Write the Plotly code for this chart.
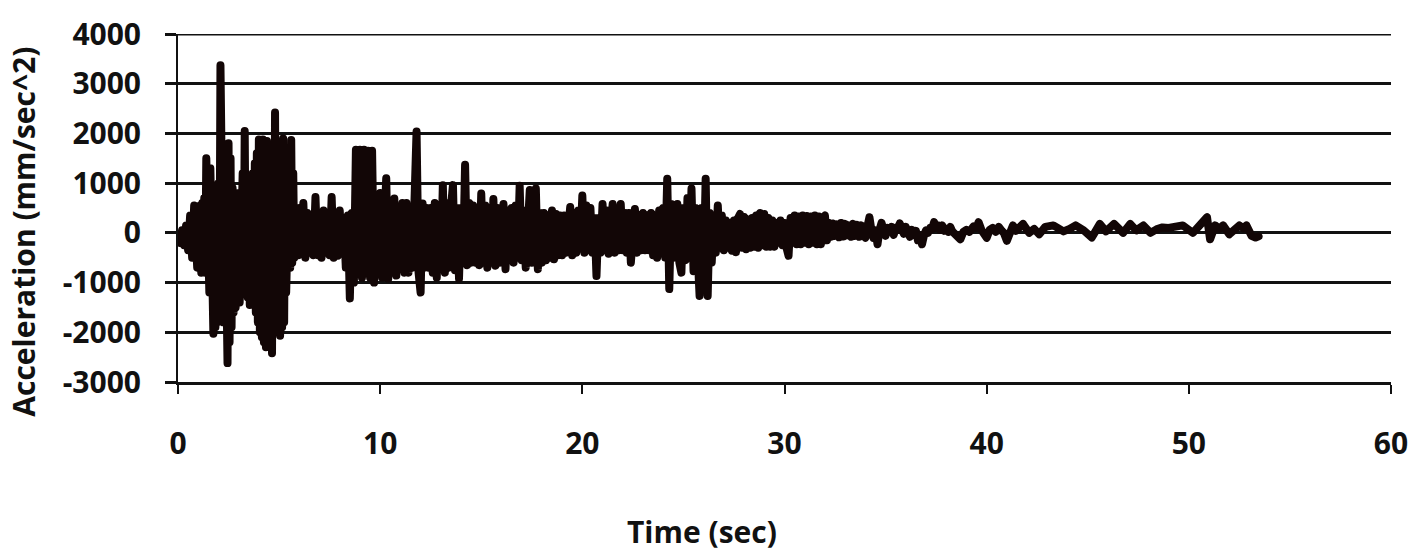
import plotly.graph_objects as go

# ---- Data ----
# Onset 0-0.7 s
t_onset = [0.0, 0.1, 0.2, 0.3, 0.4, 0.5, 0.6, 0.7]
a_onset = [-50, -200, 50, -250, 150, -350, 350, -500]

# Peak shaking 0.8-5.95 s, sampled every 0.05 s
t_peak = [
    0.80, 0.85, 0.90, 0.95,
    1.00, 1.05, 1.10, 1.15, 1.20, 1.25, 1.30, 1.35, 1.40, 1.45,
    1.50, 1.55, 1.60, 1.65, 1.70, 1.75, 1.80, 1.85, 1.90, 1.95,
    2.00, 2.05, 2.10, 2.15, 2.20, 2.25, 2.30, 2.35, 2.40, 2.45,
    2.50, 2.55, 2.60, 2.65, 2.70, 2.75, 2.80, 2.85, 2.90, 2.95,
    3.00, 3.05, 3.10, 3.15, 3.20, 3.25, 3.30, 3.35, 3.40, 3.45,
    3.50, 3.55, 3.60, 3.65, 3.70, 3.75, 3.80, 3.85, 3.90, 3.95,
    4.00, 4.05, 4.10, 4.15, 4.20, 4.25, 4.30, 4.35, 4.40, 4.45,
    4.50, 4.55, 4.60, 4.65, 4.70, 4.75, 4.80, 4.85, 4.90, 4.95,
    5.00, 5.05, 5.10, 5.15, 5.20, 5.25, 5.30, 5.35, 5.40, 5.45,
    5.50, 5.55, 5.60, 5.65, 5.70, 5.75, 5.80, 5.85, 5.90, 5.95,
]
a_peak = [
    550, -600, 500, -700,
    500, -700, 550, -800, 600, -700, 700, -800, 1500, -900,
    1400, -1200, 1300, -1800, 1200, -2030, 800, -1900, 900, -1800,
    1000, -1500, 3370, -1600, 1200, -1800, 1700, -2300, 1200, -2620,
    1800, -2200, 1500, -1900, 900, -1600, 800, -1500, 700, -1400,
    800, -1400, 1000, -1300, 1200, -1200, 2050, -1000, 900, -1300,
    1000, -1450, 1000, -1300, 1200, -1400, 1400, -1600, 1600, -1800,
    1880, -2000, 1850, -2100, 1880, -2200, 1850, -2300, 1850, -2100,
    1700, -2300, 1500, -2420, 1300, -2000, 2420, -1900, 1500, -2000,
    1200, -2070, 1600, -1900, 1900, -1800, 1500, -1200, 1200, -900,
    1400, -700, 1870, -600, 1200, -500, 500, -450, 450, -450,
]

# Strong-motion phase 6.0-27.9 s, sampled every 0.1 s (one row per second)
t_strong = [
    6.0, 6.1, 6.2, 6.3, 6.4, 6.5, 6.6, 6.7, 6.8, 6.9,
    7.0, 7.1, 7.2, 7.3, 7.4, 7.5, 7.6, 7.7, 7.8, 7.9,
    8.0, 8.1, 8.2, 8.3, 8.4, 8.5, 8.6, 8.7, 8.8, 8.9,
    9.0, 9.1, 9.2, 9.3, 9.4, 9.5, 9.6, 9.7, 9.8, 9.9,
    10.0, 10.1, 10.2, 10.3, 10.4, 10.5, 10.6, 10.7, 10.8, 10.9,
    11.0, 11.1, 11.2, 11.3, 11.4, 11.5, 11.6, 11.7, 11.8, 11.9,
    12.0, 12.1, 12.2, 12.3, 12.4, 12.5, 12.6, 12.7, 12.8, 12.9,
    13.0, 13.1, 13.2, 13.3, 13.4, 13.5, 13.6, 13.7, 13.8, 13.9,
    14.0, 14.1, 14.2, 14.3, 14.4, 14.5, 14.6, 14.7, 14.8, 14.9,
    15.0, 15.1, 15.2, 15.3, 15.4, 15.5, 15.6, 15.7, 15.8, 15.9,
    16.0, 16.1, 16.2, 16.3, 16.4, 16.5, 16.6, 16.7, 16.8, 16.9,
    17.0, 17.1, 17.2, 17.3, 17.4, 17.5, 17.6, 17.7, 17.8, 17.9,
    18.0, 18.1, 18.2, 18.3, 18.4, 18.5, 18.6, 18.7, 18.8, 18.9,
    19.0, 19.1, 19.2, 19.3, 19.4, 19.5, 19.6, 19.7, 19.8, 19.9,
    20.0, 20.1, 20.2, 20.3, 20.4, 20.5, 20.6, 20.7, 20.8, 20.9,
    21.0, 21.1, 21.2, 21.3, 21.4, 21.5, 21.6, 21.7, 21.8, 21.9,
    22.0, 22.1, 22.2, 22.3, 22.4, 22.5, 22.6, 22.7, 22.8, 22.9,
    23.0, 23.1, 23.2, 23.3, 23.4, 23.5, 23.6, 23.7, 23.8, 23.9,
    24.0, 24.1, 24.2, 24.3, 24.4, 24.5, 24.6, 24.7, 24.8, 24.9,
    25.0, 25.1, 25.2, 25.3, 25.4, 25.5, 25.6, 25.7, 25.8, 25.9,
    26.0, 26.1, 26.2, 26.3, 26.4, 26.5, 26.6, 26.7, 26.8, 26.9,
    27.0, 27.1, 27.2, 27.3, 27.4, 27.5, 27.6, 27.7, 27.8, 27.9,
]
a_strong = [
    500, -400, 600, -500, 400, -400, 300, -450, 720, -450,
    400, -500, 450, -400, 350, -450, 720, -500, 400, -460,
    450, -400, 300, -700, 350, -1320, 400, -1000, 1670, -700,
    1670, -900, 1670, -800, 1650, -900, 1650, -1000, 500, -800,
    800, -900, 600, 1100, -920, 500, -800, 690, -860, 500,
    -700, 600, -800, 600, -800, 500, -700, 900, 2040, -800,
    -1200, 590, -700, 500, -700, 500, -800, 600, -900, 550,
    -700, 960, -800, 600, -700, 500, 960, -750, 500, -920,
    500, -600, 1370, -650, 600, -600, 550, -600, 500, -650,
    790, -600, 550, -700, 500, -600, 680, -660, 500, -600,
    500, 580, -730, 450, -550, 500, -600, 550, -500, 950,
    -550, 450, -700, 500, 860, -600, 500, 890, -730, 400,
    -600, 400, -550, 350, -500, 450, -530, 380, -450, 350,
    -450, 350, -400, 400, 520, -450, 400, -400, 450, -300,
    750, -400, 550, -350, 500, -400, 300, -870, 300, -400,
    580, -350, 450, -420, 450, 580, -400, 400, -350, 580,
    -350, 400, -400, 400, -600, 400, 480, -400, 350, -350,
    400, -350, 350, -350, 400, -450, 350, -500, 450, -400,
    500, -500, 1090, -1130, 580, -500, 550, 580, -600, -800,
    500, -550, 700, -500, 890, -770, 500, -600, -1270, 500,
    -800, 1090, -1270, 400, -600, 300, -400, 550, -300, 350,
    -350, 250, -300, 200, -360, 250, -390, 300, 380, -300,
]

# 28-38.4 s (coda, 0.1 s samples, one row per second)
t_coda = [
    28.0, 28.1, 28.2, 28.3, 28.4, 28.5, 28.6, 28.7, 28.8, 28.9,
    29.0, 29.1, 29.2, 29.3, 29.4, 29.5, 29.6, 29.7, 29.8, 29.9,
    30.0, 30.1, 30.2, 30.3, 30.4, 30.5, 30.6, 30.7, 30.8, 30.9,
    31.0, 31.1, 31.2, 31.3, 31.4, 31.5, 31.6, 31.7, 31.8, 31.9,
    32.0, 32.1, 32.2, 32.3, 32.4, 32.5, 32.6, 32.7, 32.8, 32.9,
    33.0, 33.1, 33.2, 33.3, 33.4, 33.5, 33.6, 33.7, 33.8, 33.9,
    34.0, 34.1, 34.2, 34.3, 34.4, 34.5, 34.6, 34.7, 34.8, 34.9,
    35.0, 35.1, 35.2, 35.3, 35.4, 35.5, 35.6, 35.7, 35.8, 35.9,
    36.0, 36.1, 36.2, 36.3, 36.4, 36.5, 36.6, 36.7, 36.8, 36.9,
    37.0, 37.1, 37.2, 37.3, 37.4, 37.5, 37.6, 37.7, 37.8, 37.9,
    38.0, 38.1, 38.2, 38.3, 38.4,
]
a_coda = [
    320, -330, 270, -300, 300, -280, 350, -300, 400, -250,
    380, -280, 300, -280, 250, -280, 200, -200, 250, -250,
    200, -300, -460, 300, -200, 350, -230, 330, -230, 350,
    -200, 340, -230, 330, -200, 350, -230, 330, -230, 300,
    350, -150, 200, -80, 190, -60, 170, -90, 200, -75,
    180, -50, 150, -80, 180, -60, 160, -80, 150, -50,
    -100, 120, 315, 50, -100, 50, -230, 60, 200, 50,
    -60, 100, 40, 120, -40, 100, 60, 190, 60, -20,
    120, 30, -80, 60, -40, 40, -150, -60, -230, -50,
    50, 0, 100, 80, 215, 100, 150, 60, 150, 40,
    80, 20, 120, 30, 0,
]

# 38.55-53.45 s (late coda)
t_late = [38.55, 38.7, 38.85, 39.0, 39.15, 39.35, 39.5, 39.6, 39.75, 39.9,
          40.0, 40.15, 40.3, 40.45, 40.6, 40.75, 40.85, 41.0, 41.15, 41.3,
          41.45, 41.6, 41.8, 42.1, 42.35, 42.6, 42.9, 43.3, 43.8, 44.1,
          44.4, 44.8, 45.2, 45.6, 45.9, 46.3, 46.75, 47.1, 47.4, 47.75,
          48.1, 48.4, 48.7, 49.0, 49.4, 49.7, 50.2, 50.5, 50.9, 51.05,
          51.3, 51.5, 51.7, 52.0, 52.5, 52.7, 52.85, 53.1, 53.3, 53.45]
a_late = [-60, -130, 20, 60, 20, 130, 100, 215, 50, -20,
          -100, 60, 100, 20, 120, 40, 0, -160, 60, 150,
          40, 130, 180, 0, 80, -30, 120, 150, 30, 80,
          150, 50, -95, 180, 30, 180, 0, 180, 50, 150,
          0, 70, 110, 100, 110, 150, 0, 120, 315, -130,
          150, 80, 150, -30, 150, 90, 150, -60, -95, -70]

segments = ((t_onset, a_onset), (t_peak, a_peak), (t_strong, a_strong),
            (t_coda, a_coda), (t_late, a_late))
for tt, aa in segments:
    assert len(tt) == len(aa), (len(tt), len(aa))

time_s = [t for tt, _ in segments for t in tt]
accel = [a for _, aa in segments for a in aa]

x_ticks = [0, 10, 20, 30, 40, 50, 60]
y_ticks = [-3000, -2000, -1000, 0, 1000, 2000, 3000, 4000]

INK = "#111111"
BOLD = "Open Sans"

fig = go.Figure()
fig.add_trace(go.Scatter(
    x=time_s, y=accel, mode="lines",
    line=dict(color="#120606", width=8),
    showlegend=False, hoverinfo="skip",
))

fig.update_layout(
    width=1419, height=556,
    margin=dict(l=178, r=28, t=34, b=174),
    paper_bgcolor="white", plot_bgcolor="white",
    showlegend=False,
    xaxis=dict(
        range=[0, 60], tickvals=x_ticks, ticktext=[str(v) for v in x_ticks],
        showgrid=False, zeroline=False,
        showline=True, linecolor=INK, linewidth=3,
        ticks="outside", ticklen=9, tickwidth=2, tickcolor=INK,
        ticklabelstandoff=24,
        tickfont=dict(family=BOLD, size=30, color=INK, weight="bold"),
        fixedrange=True,
    ),
    yaxis=dict(
        range=[-3000, 4000], tickvals=y_ticks, ticktext=[str(v) for v in y_ticks],
        showgrid=True, gridcolor=INK, gridwidth=3,
        zeroline=True, zerolinecolor=INK, zerolinewidth=3,
        showline=True, linecolor=INK, linewidth=2,
        ticks="outside", ticklen=11, tickwidth=3, tickcolor=INK,
        ticklabelstandoff=18,
        tickfont=dict(family=BOLD, size=30, color=INK, weight="bold"),
        fixedrange=True,
    ),
    annotations=[
        dict(text="Acceleration (mm/sec^2)", xref="paper", yref="paper",
             x=-0.128, y=0.431, xanchor="center", yanchor="middle", textangle=-90,
             showarrow=False, font=dict(family=BOLD, size=30, color=INK, weight="bold")),
        dict(text="Time (sec)", xref="paper", yref="paper",
             x=0.432, y=-0.43, xanchor="center", yanchor="middle",
             showarrow=False, font=dict(family=BOLD, size=30, color=INK, weight="bold")),
    ],
)

# top border gridline at 4000
fig.add_shape(type="line", xref="paper", yref="y", x0=-0.009, x1=1.0, y0=4000, y1=4000,
              line=dict(color=INK, width=3), layer="below")

post = ("var s=document.createElement('style');"
        "s.textContent='path.js-line{stroke-linejoin:round !important;stroke-linecap:round !important;}';"
        "document.head.appendChild(s);")
fig.write_html("out.html", post_script=post)
